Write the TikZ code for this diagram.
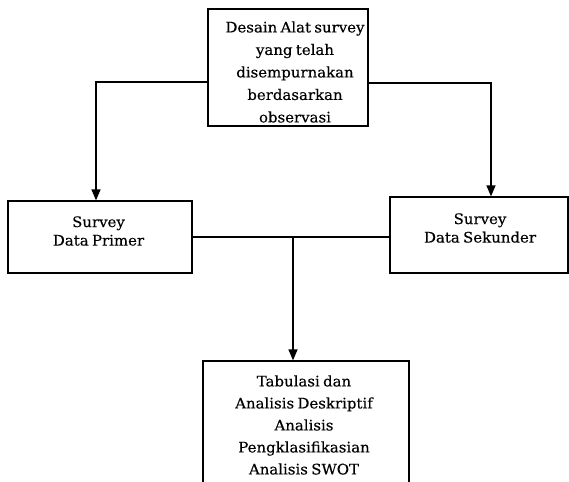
\documentclass[tikz,border=0pt]{standalone}
\usepackage{fontspec}
\setmainfont{DejaVu Serif}[FakeStretch=1.03, FakeBold=0.3, WordSpace=0.7]
\usetikzlibrary{arrows.meta}
\begin{document}
\begin{tikzpicture}[x=1pt,y=-1pt,
  box/.style={draw, line width=1.3pt, rectangle, inner sep=0pt},
  txt/.style={align=center, inner sep=0pt, font=\fontsize{14.5}{22}\selectfont},
  tall/.style={txt, font=\fontsize{14.5}{22.5}\selectfont},
  pair/.style={txt, font=\fontsize{14.5}{18.5}\selectfont},
  link/.style={line width=1.3pt},
  arrow/.style={link, -{Triangle[width=9pt,length=11pt]}}]
  \useasboundingbox (0,0) rectangle (569,481);
  \clip (0,0) rectangle (569,481);

  % boxes
  \node[box, minimum width=160pt, minimum height=117pt] (desain) at (288,67.5) {};
  \node[box, minimum width=184pt, minimum height=72pt] (primer) at (100,237) {};
  \node[box, minimum width=178pt, minimum height=76pt] (sekunder) at (479,235) {};
  \node[box, minimum width=206pt, minimum height=130pt] (analisis) at (306,426) {};

  % box texts
  \node[tall] (desaint) at (295,72) {Desain Alat survey\\yang telah\\disempurnakan\\berdasarkan\\observasi};
  \node[pair] (primert) at (98.5,231) {Survey\\Data Primer};
  \node[pair] (sekundert) at (480,228) {Survey\\Data Sekunder};
  \node[txt] (analisist) at (304,425) {Tabulasi dan\\Analisis Deskriptif\\Analisis\\Pengklasifikasian\\Analisis SWOT};

  % connectors
  \coordinate (pin) at (96,0);
  \coordinate (sin) at (491,0);
  \coordinate (dl) at (0,82);
  \coordinate (dr) at (0,83);
  \coordinate (mid) at (293,237);
  \draw[arrow] (desain.west |- dl) -| (primer.north -| pin);
  \draw[arrow] (desain.east |- dr) -| (sekunder.north -| sin);
  \draw[link] (primer.east) -- (sekunder.west |- primer.east);
  \draw[arrow] (mid) -- (analisis.north -| mid);
\end{tikzpicture}
\end{document}
